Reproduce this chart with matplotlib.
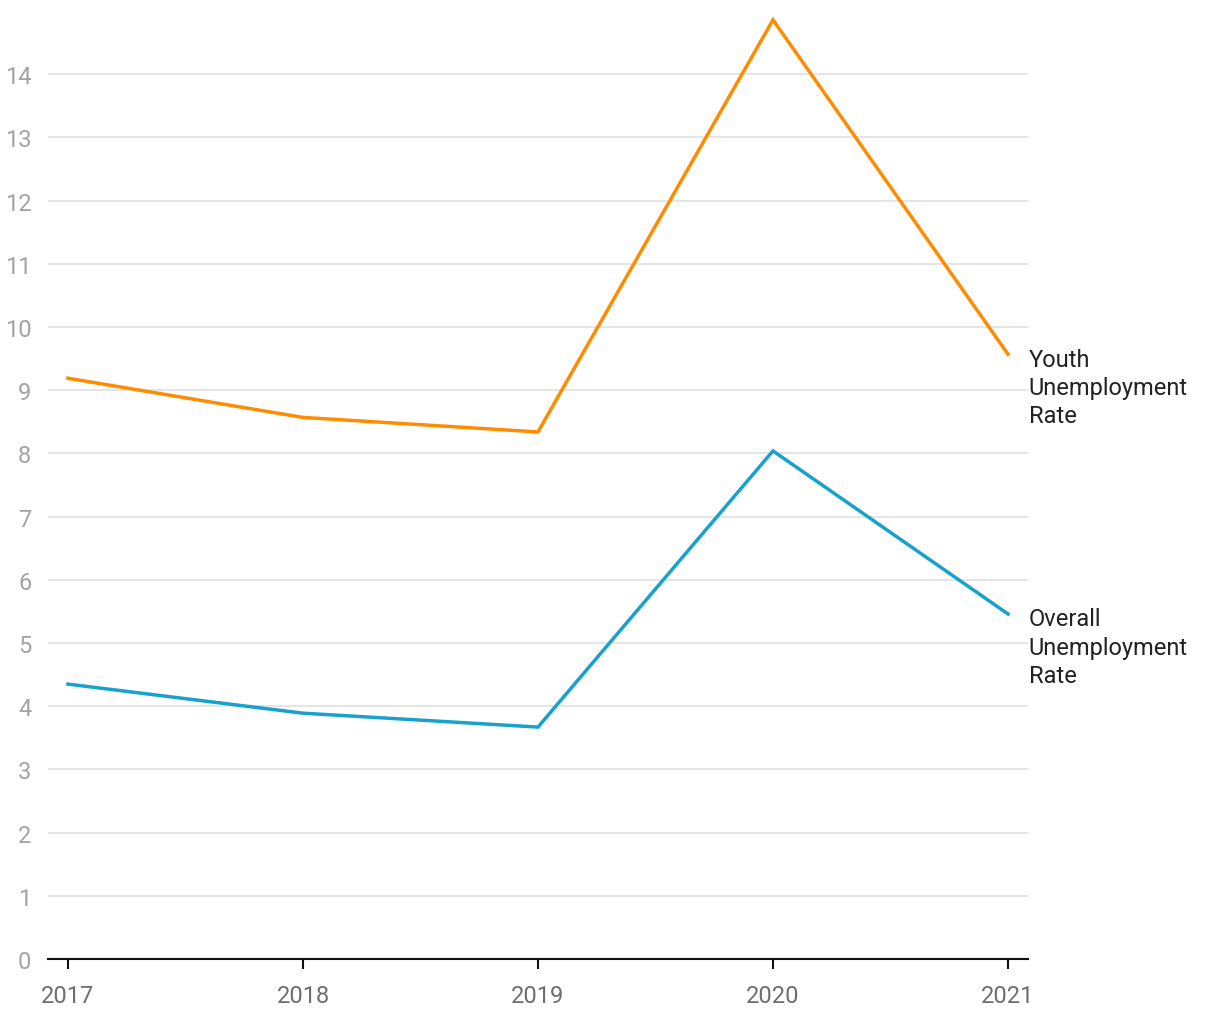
import matplotlib.pyplot as plt

plt.rcParams["font.family"] = ["Roboto", "DejaVu Sans"]

years = [2017, 2018, 2019, 2020, 2021]
youth_rate = [9.19, 8.57, 8.34, 14.86, 9.57]
overall_rate = [4.35, 3.89, 3.67, 8.04, 5.46]
y_ticks = list(range(0, 15))

youth_color = "#ff8c00"
overall_color = "#18a1cd"

fig = plt.figure(figsize=(12.2, 10.2), dpi=100)
ax = fig.add_axes([0.0393, 0.0588, 0.8033, 0.9294])

ax.plot(years, youth_rate, color=youth_color, lw=2.5, solid_joinstyle="miter", zorder=3)
ax.plot(years, overall_rate, color=overall_color, lw=2.5, solid_joinstyle="miter", zorder=3)

ax.set_xlim(2016.915, 2021.085)
ax.set_ylim(0, 15)
ax.set_xticks(years)
ax.set_xticklabels([str(y) for y in years])
ax.set_yticks(y_ticks)
ax.set_yticklabels([str(v) for v in y_ticks])

ax.grid(axis="y", color="#e5e5e5", lw=1.4, zorder=0)
ax.set_axisbelow(True)
for side in ["top", "right", "left"]:
    ax.spines[side].set_visible(False)
ax.spines["bottom"].set_color("#111111")
ax.spines["bottom"].set_linewidth(1.5)
ax.spines["bottom"].set_zorder(4)

ax.tick_params(axis="x", direction="out", length=7, width=1.5, color="#111111",
               labelsize=17, labelcolor="#6e6e6e", pad=11)
ax.tick_params(axis="y", length=0, labelsize=17, labelcolor="#a3a3a3", pad=12)

ax.annotate("Youth\nUnemployment\nRate", xy=(years[-1], youth_rate[-1]),
            xytext=(15, -24), textcoords="offset points", va="center", ha="left",
            fontsize=17, color="#222222", linespacing=1.3, annotation_clip=False)
ax.annotate("Overall\nUnemployment\nRate", xy=(years[-1], overall_rate[-1]),
            xytext=(15, -24), textcoords="offset points", va="center", ha="left",
            fontsize=17, color="#222222", linespacing=1.3, annotation_clip=False)

fig.savefig("out.png", dpi=100)
